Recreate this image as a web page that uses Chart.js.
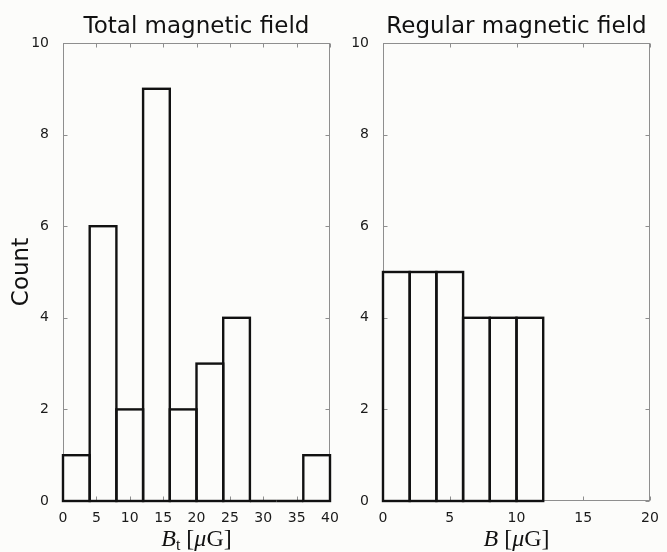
<!DOCTYPE html>
<html>
<head>
<meta charset="utf-8">
<script src="https://cdn.jsdelivr.net/npm/chart.js@4.4.1/dist/chart.umd.min.js"></script>
<style>
  html, body { margin: 0; padding: 0; background: #fcfcfa; }
  #wrap { position: relative; width: 667px; height: 552px; }
  #wrap canvas { position: absolute; left: 0; top: 0; }
</style>
</head>
<body>
<div id="wrap">
  <canvas id="total" width="667" height="552"></canvas>
  <canvas id="regular" width="667" height="552"></canvas>
</div>
<script>
// Total field: bins of 4 µG
const totalBinStarts = [0, 4, 8, 12, 16, 20, 24, 28, 32, 36];
const totalBinWidth = 4;
const totalCounts = [1, 6, 2, 9, 2, 3, 4, 0, 0, 1];

// Regular field: bins of 2 µG
const regularBinStarts = [0, 2, 4, 6, 8, 10];
const regularBinWidth = 2;
const regularCounts = [5, 5, 5, 4, 4, 4];

// Axis ticks
const countTicks = [0, 2, 4, 6, 8, 10];
const totalFieldTicks = [0, 5, 10, 15, 20, 25, 30, 35, 40];
const regularFieldTicks = [0, 5, 10, 15, 20];

const INK = '#111111';
const SPINE = '#8e8e8e';
const TICK_FONT = { family: 'DejaVu Sans', size: 14 };

// Axes box with inward ticks on all four sides
const framePlugin = {
  id: 'frame',
  beforeDatasetsDraw(chart) {
    const { ctx, chartArea: a, scales: { x, y } } = chart;
    const L = Math.round(a.left) + 0.5, R = Math.round(a.right) - 0.5;
    const T = Math.round(a.top) + 0.5, B = Math.round(a.bottom) - 0.5;
    ctx.save();
    ctx.strokeStyle = SPINE;
    ctx.lineWidth = 1;
    ctx.strokeRect(L, T, R - L, B - T);
    ctx.beginPath();
    x.ticks.forEach(t => {
      const px = Math.round(x.getPixelForValue(t.value)) + 0.5;
      ctx.moveTo(px, B); ctx.lineTo(px, B - 4);
      ctx.moveTo(px, T); ctx.lineTo(px, T + 4);
    });
    y.ticks.forEach(t => {
      const py = Math.round(y.getPixelForValue(t.value)) + 0.5;
      ctx.moveTo(L, py); ctx.lineTo(L + 4, py);
      ctx.moveTo(R, py); ctx.lineTo(R - 4, py);
    });
    ctx.stroke();
    ctx.restore();
  }
};

// Step outline of each histogram bin, edges centred on bin boundaries
const outlinePlugin = {
  id: 'histOutline',
  afterDatasetsDraw(chart) {
    const { ctx } = chart;
    const meta = chart.getDatasetMeta(0);
    ctx.save();
    ctx.strokeStyle = INK;
    ctx.lineWidth = 2.4;
    meta.data.forEach(bar => {
      const p = bar.getProps(['x', 'y', 'base', 'width'], true);
      ctx.strokeRect(p.x - p.width / 2, p.y, p.width, p.base - p.y);
    });
    ctx.restore();
  }
};

// Panel title and math-style x label
const labelPlugin = {
  id: 'panelLabels',
  afterDraw(chart, args, opts) {
    const { ctx, chartArea: a } = chart;
    const cx = (a.left + a.right) / 2;
    ctx.save();
    ctx.fillStyle = INK;
    ctx.textBaseline = 'alphabetic';
    ctx.textAlign = 'center';
    ctx.font = '23px "DejaVu Sans"';
    ctx.fillText(opts.title, cx, a.top - 10);

    ctx.textAlign = 'left';
    let total = 0;
    opts.xLabel.forEach(part => {
      ctx.font = part.font;
      part.w = ctx.measureText(part.text).width;
      total += part.w;
    });
    let xx = cx - total / 2;
    const baseY = a.bottom + 45;
    opts.xLabel.forEach(part => {
      ctx.font = part.font;
      ctx.fillText(part.text, xx, baseY + (part.dy || 0));
      xx += part.w;
    });
    ctx.restore();
  }
};

const SERIF = '"Liberation Serif"';
const totalLabel = [
  { text: 'B', font: `italic 24px ${SERIF}` },
  { text: 't', font: `16px ${SERIF}`, dy: 4 },
  { text: ' [', font: `24px ${SERIF}` },
  { text: 'μ', font: `italic 24px ${SERIF}` },
  { text: 'G', font: `24px ${SERIF}` },
  { text: ']', font: `24px ${SERIF}` }
];
const regularLabel = [
  { text: 'B', font: `italic 24px ${SERIF}` },
  { text: ' [', font: `24px ${SERIF}` },
  { text: 'μ', font: `italic 24px ${SERIF}` },
  { text: 'G', font: `24px ${SERIF}` },
  { text: ']', font: `24px ${SERIF}` }
];

function makePanel(id, cfg) {
  const data = cfg.starts.map((s, i) => ({ x: s + cfg.binWidth / 2, y: cfg.counts[i] }));
  return new Chart(document.getElementById(id), {
    type: 'bar',
    data: {
      datasets: [{
        data,
        backgroundColor: 'rgba(0,0,0,0)',
        borderWidth: 0,
        barPercentage: 1,
        categoryPercentage: 1
      }]
    },
    options: {
      responsive: false,
      animation: false,
      devicePixelRatio: 1,
      layout: { padding: { left: cfg.padLeft, right: cfg.padRight, top: 43, bottom: 0 } },
      plugins: {
        legend: { display: false },
        title: { display: false },
        tooltip: { enabled: false },
        panelLabels: { title: cfg.title, xLabel: cfg.xLabel }
      },
      scales: {
        x: {
          type: 'linear',
          min: 0,
          max: cfg.xMax,
          offset: false,
          grid: { display: false, offset: false },
          border: { display: false },
          ticks: { font: TICK_FONT, color: '#1a1a1a', padding: 1, maxRotation: 0, autoSkip: false },
          afterBuildTicks: s => { s.ticks = cfg.xTicks.map(v => ({ value: v })); },
          afterFit: s => { s.height = 51; s.paddingLeft = 0; s.paddingRight = 0; }
        },
        y: {
          min: 0,
          max: 10,
          grid: { display: false },
          border: { display: false },
          ticks: { font: TICK_FONT, color: '#1a1a1a', padding: 6 },
          afterBuildTicks: s => { s.ticks = countTicks.map(v => ({ value: v })); },
          afterFit: s => { s.width = cfg.yWidth; s.paddingTop = 0; s.paddingBottom = 0; },
          title: {
            display: cfg.showCount,
            text: 'Count',
            color: INK,
            font: { family: 'DejaVu Sans', size: 23 },
            padding: { top: 8, bottom: 0 }
          }
        }
      }
    },
    plugins: [framePlugin, outlinePlugin, labelPlugin]
  });
}

makePanel('total', {
  starts: totalBinStarts, binWidth: totalBinWidth, counts: totalCounts,
  xTicks: totalFieldTicks, xMax: 40,
  title: 'Total magnetic field', xLabel: totalLabel,
  padLeft: 0, padRight: 337, yWidth: 63, showCount: true
});

makePanel('regular', {
  starts: regularBinStarts, binWidth: regularBinWidth, counts: regularCounts,
  xTicks: regularFieldTicks, xMax: 20,
  title: 'Regular magnetic field', xLabel: regularLabel,
  padLeft: 333, padRight: 17, yWidth: 50, showCount: false
});
</script>
</body>
</html>
